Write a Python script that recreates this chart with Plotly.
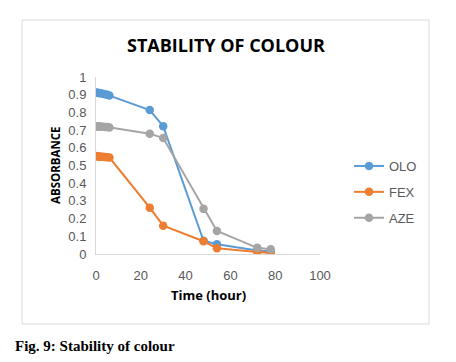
import plotly.graph_objects as go

time_h = [0, 0.5, 1, 1.5, 2, 3, 4, 5, 6, 24, 30, 48, 54, 72, 78]
olo = [0.912, 0.911, 0.910, 0.909, 0.908, 0.906, 0.903, 0.900, 0.895, 0.813, 0.722, 0.075, 0.055, 0.020, 0.014]
fex = [0.553, 0.552, 0.551, 0.551, 0.550, 0.549, 0.548, 0.547, 0.545, 0.262, 0.160, 0.072, 0.032, 0.012, 0.006]
aze = [0.722, 0.721, 0.721, 0.720, 0.720, 0.719, 0.718, 0.717, 0.715, 0.680, 0.655, 0.255, 0.130, 0.035, 0.027]

series = [("OLO", olo, "#5B9BD5"), ("FEX", fex, "#ED7D31"), ("AZE", aze, "#A5A5A5")]

fig = go.Figure()
for i, (name, vals, col) in enumerate(series):
    fig.add_trace(go.Scatter(
        x=time_h, y=vals, name=name, mode="lines+markers",
        line=dict(color=col, width=2),
        marker=dict(color=col, size=8.5),
        legendgroup=name,
    ))

W, H = 456, 362
L, R, T, B = 96, 320, 77, 254

def px(x):
    return (x - L) / (R - L)

def py(y):
    return (B - y) / (B - T)

tickfont = dict(family="Liberation Sans, Arial", size=13, color="#595959")
fig.update_layout(
    width=W, height=H,
    margin=dict(l=L, r=W - R, t=T, b=H - B, autoexpand=False),
    paper_bgcolor="white", plot_bgcolor="white",
    showlegend=True,
    legend=dict(
        x=px(349), y=py(192), xanchor="left", yanchor="middle",
        font=dict(family="Liberation Sans, Arial", size=13, color="#595959"),
        tracegroupgap=6, itemwidth=30, bgcolor="rgba(0,0,0,0)",
    ),
    xaxis=dict(
        range=[0, 100], dtick=20, showgrid=False, zeroline=False,
        showline=True, linecolor="#D9D9D9", linewidth=1, automargin=False,
        ticks="", tickfont=tickfont, ticklabelstandoff=9,
    ),
    yaxis=dict(
        range=[0, 1], dtick=0.1, showgrid=False, zeroline=False,
        showline=True, linecolor="#D9D9D9", linewidth=1, automargin=False,
        ticks="", tickfont=tickfont, ticklabelstandoff=6,
    ),
    shapes=[dict(
        type="rect", xref="paper", yref="paper",
        x0=px(22), x1=px(429), y0=py(324), y1=py(20),
        line=dict(color="#D9D9D9", width=1), fillcolor="rgba(0,0,0,0)", layer="below",
    )],
    annotations=[
        dict(text="<b>STABILITY OF COLOUR</b>", xref="paper", yref="paper",
             x=px(226), y=py(45), xanchor="center", yanchor="middle", showarrow=False,
             font=dict(family="Open Sans, Liberation Sans", size=18, color="black")),
        dict(text="<b>Time (hour)</b>", xref="paper", yref="paper",
             x=px(208), y=py(295), xanchor="center", yanchor="middle", showarrow=False,
             font=dict(family="Open Sans, Liberation Sans", size=13, color="black")),
        dict(text="<b>ABSORBANCE</b>", xref="paper", yref="paper", textangle=-90,
             x=px(55), y=py(165), xanchor="center", yanchor="middle", showarrow=False,
             font=dict(family="Open Sans, Liberation Sans", size=11.5, color="black")),
        dict(text="<b>Fig. 9: Stability of colour</b>", xref="paper", yref="paper",
             x=px(13), y=py(346), xanchor="left", yanchor="middle", showarrow=False,
             font=dict(family="Liberation Serif, Times New Roman", size=15, color="black")),
    ],
)

fig.write_html("out.html", config={"displayModeBar": False},
               post_script="document.body.style.margin='0';document.body.style.overflow='hidden';")
